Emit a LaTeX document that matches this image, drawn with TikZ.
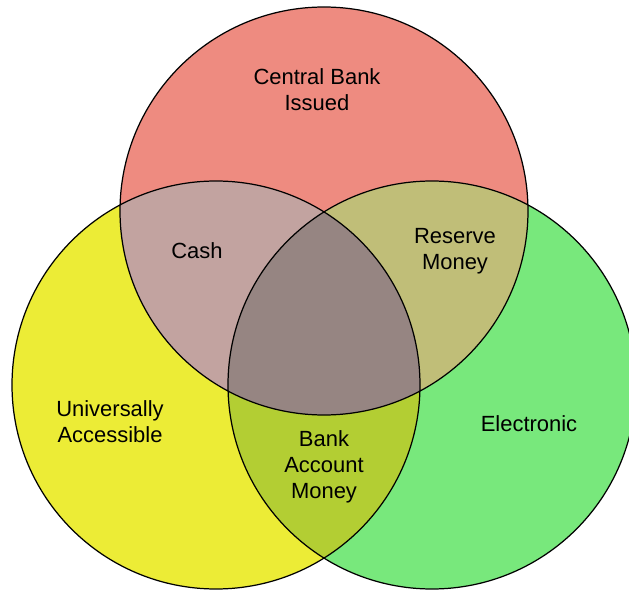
\documentclass[tikz,border=0pt]{standalone}
\usepackage{fontspec}
\setmainfont{Liberation Sans}
\definecolor{issuedred}{HTML}{EE8B80}
\definecolor{accessyellow}{HTML}{ECEC36}
\definecolor{elecgreen}{HTML}{78E87C}
\definecolor{cashmix}{HTML}{C2A3A0}
\definecolor{reservemix}{HTML}{C0BE78}
\definecolor{bankmix}{HTML}{B3CE33}
\definecolor{allmix}{HTML}{968582}
\begin{document}
\begin{tikzpicture}[font=\fontsize{12.5}{14.8}\selectfont, line join=round, line cap=round,
	lbl/.style={align=center, inner sep=1pt}]
	\useasboundingbox (0,0) rectangle (12.58,11.8);
	\clip (0,0) rectangle (12.58,11.8);
	\def\rr{4.08}
	\def\cbi{(6.48,7.58) circle (\rr)}
	\def\uac{(4.32,4.10) circle (\rr)}
	\def\elc{(8.64,4.10) circle (\rr)}
	% circles
	\fill[issuedred] \cbi;
	\fill[accessyellow] \uac;
	\fill[elecgreen] \elc;
	% overlaps
	\begin{scope}\clip \cbi; \fill[cashmix] \uac; \fill[reservemix] \elc;\end{scope}
	\begin{scope}\clip \uac; \fill[bankmix] \elc;\end{scope}
	\begin{scope}\clip \cbi; \clip \uac; \fill[allmix] \elc;\end{scope}
	\draw[line width=.7pt] \cbi \uac \elc;
	% labels
	\node[lbl] (issued) at (6.34,10.0) {Central Bank\\Issued};
	\node[lbl] (cash) at (3.94,6.78) {Cash};
	\node[lbl] (reserve) at (9.10,6.78) {Reserve\\Money};
	\node[lbl] (access) at (2.20,3.36) {Universally\\Accessible};
	\node[lbl] (elec) at (10.58,3.32) {Electronic};
	\node[lbl] (bank) at (6.48,2.46) {Bank\\Account\\Money};
\end{tikzpicture}
\end{document}
